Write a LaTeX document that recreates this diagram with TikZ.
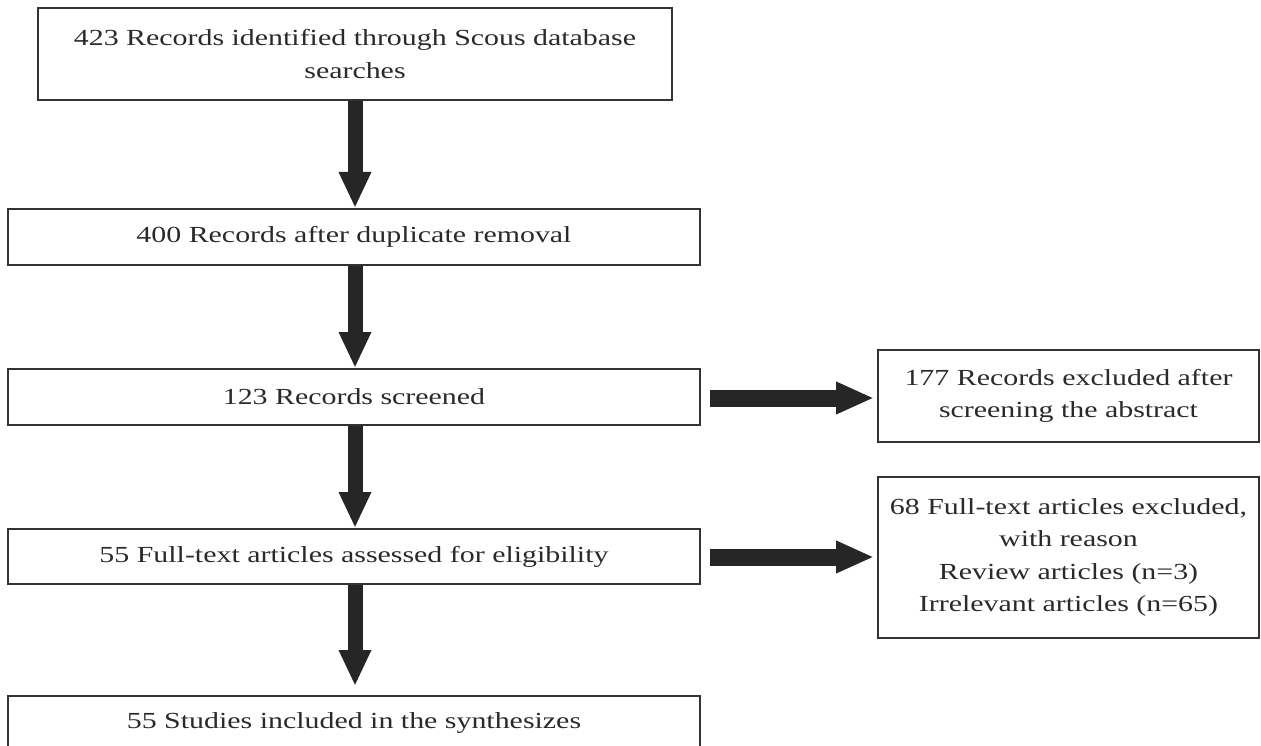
\documentclass[tikz,border=0pt]{standalone}
\usepackage{fontspec}
\setmainfont{Liberation Serif}[FakeStretch=1.3]
\usetikzlibrary{arrows.meta}
\definecolor{boxline}{HTML}{333333}
\definecolor{arrowfill}{HTML}{262626}
\definecolor{txt}{HTML}{2A2A2A}
\tikzset{
  flowbox/.style={draw=boxline, line width=2pt, fill=white, inner sep=0pt, align=center,
    text=txt, font=\fontsize{23}{32.5}\selectfont},
  downarrow/.style={draw=arrowfill, line width=15pt, line cap=butt,
    -{Triangle[length=36pt, width=30pt]}},
  sidearrow/.style={draw=arrowfill, line width=17pt, line cap=butt,
    -{Triangle[length=38pt, width=30pt]}}
}
\begin{document}
\begin{tikzpicture}[x=1pt, y=-1pt]
\useasboundingbox (0,0) rectangle (1261,746);
\clip (0,0) rectangle (1261,746);
\fill[white] (0,0) rectangle (1261,746);

\node[flowbox, minimum width=634pt, minimum height=92pt] (b1) at (355,54)
  {423 Records identified through Scous database\\searches};
\node[flowbox, minimum width=692pt, minimum height=56pt] (b2) at (354,237)
  {400 Records after duplicate removal};
\node[flowbox, minimum width=692pt, minimum height=56pt] (b3) at (354,397)
  {123 Records screened};
\node[flowbox, minimum width=692pt, minimum height=55pt] (b4) at (354,556.5)
  {55 Full-text articles assessed for eligibility};
\node[flowbox, minimum width=692pt, minimum height=54pt] (b5) at (354,723)
  {55 Studies included in the synthesizes};

\node[flowbox, minimum width=381pt, minimum height=92pt] (ba) at (1068.5,396)
  {177 Records excluded after\\screening the abstract};
\node[flowbox, minimum width=381pt, minimum height=161pt] (bb) at (1068.5,557.5)
  {68 Full-text articles excluded,\\with reason\\Review articles (n=3)\\Irrelevant articles (n=65)};

\coordinate (e5) at (355,686);

\draw[downarrow] (b1.south -| 355,0) -- (b2.north -| 355,0);
\draw[downarrow] (b2.south -| 355,0) -- (b3.north -| 355,0);
\draw[downarrow] (b3.south -| 355,0) -- (b4.north -| 355,0);
\draw[downarrow] (b4.south -| 355,0) -- (e5);

\draw[sidearrow, shorten <=9pt, shorten >=3pt] (b3.east |- 0,398) -- (ba.west |- 0,398);
\draw[sidearrow, shorten <=9pt, shorten >=3pt] (b4.east |- 0,557) -- (bb.west |- 0,557);
\end{tikzpicture}
\end{document}
